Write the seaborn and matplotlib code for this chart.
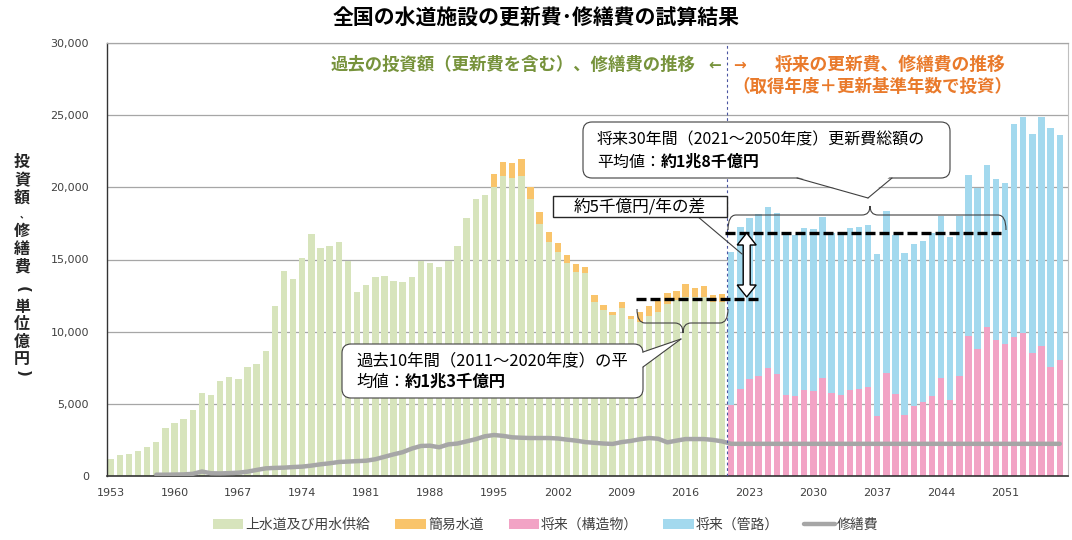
import matplotlib
matplotlib.use("Agg")
import numpy as np
import pandas as pd
import matplotlib.pyplot as plt
import seaborn as sns
from matplotlib.patches import FancyBboxPatch, Polygon, Rectangle, Patch, PathPatch
from matplotlib.path import Path
from matplotlib.lines import Line2D
from matplotlib.transforms import Affine2D
from matplotlib.ticker import FuncFormatter

# ---------------- data (億円) ----------------
past_years = list(range(1953, 2021))
future_years = list(range(2021, 2058))

jousuidou = [1200, 1450, 1520, 1750, 1990, 2380, 3300, 3700, 3930, 4570,
             5770, 5610, 6580, 6840, 6700, 7580, 7760, 8680, 11780, 14220,
             13630, 15080, 16740, 15770, 15930, 16210, 14920, 12730, 13230, 13760,
             13860, 13530, 13450, 13810, 14920, 14740, 14500, 14920, 15930, 17850,
             19210, 19470, 20040, 20810, 20620, 20810, 19170, 17460, 16190, 15540,
             14740, 14150, 14080, 12080, 11500, 11150, 11620, 10880, 10690, 11100,
             11380, 11920, 12190, 12420, 12420, 12420, 12080, 12080]
kan_i_suidou = [0, 0, 0, 0, 0, 0, 0, 0, 0, 0,
                0, 0, 0, 0, 0, 0, 0, 0, 0, 0,
                0, 0, 0, 0, 0, 0, 0, 0, 0, 0,
                0, 0, 0, 0, 0, 0, 0, 0, 0, 0,
                0, 0, 880, 970, 1090, 1130, 870, 810, 740, 580,
                550, 520, 380, 460, 350, 210, 410, 200, 650, 680,
                740, 780, 630, 880, 600, 740, 460, 510]
future_struct = [4920, 6050, 6700, 6930, 7460, 7070, 5610, 5560, 5960, 5890,
                 6770, 5730, 5610, 5960, 6050, 6190, 4160, 7160, 5680, 4230,
                 4850, 5100, 5540, 6770, 5270, 6930, 9700, 8780, 10340, 9420,
                 9150, 9610, 9930, 8500, 9010, 7570, 8040]
future_pipe = [10580, 11180, 11150, 11200, 11150, 11170, 11160, 11140, 11200, 11200,
               11150, 11130, 11200, 11200, 11220, 11200, 11220, 11200, 11020, 11200,
               11200, 11180, 11270, 11260, 11260, 11100, 11150, 11150, 11210, 11160,
               11170, 14780, 14970, 15190, 15840, 16560, 15580]
repair_years = list(range(1958, 2058))
repair = [90, 90, 100, 110, 150, 310, 190, 180, 200, 230,
          300, 420, 530, 560, 580, 620, 650, 720, 810, 880,
          970, 1000, 1030, 1060, 1160, 1330, 1500, 1650, 1900, 2080,
          2100, 1990, 2190, 2250, 2400, 2550, 2750, 2840, 2780, 2680,
          2650, 2630, 2630, 2630, 2600, 2520, 2450, 2350, 2300, 2250,
          2220, 2350, 2430, 2550, 2630, 2580, 2330, 2450, 2560, 2560,
          2560, 2500, 2400,
          2230, 2230, 2230, 2230, 2230, 2230, 2230, 2230, 2230, 2230,
          2230, 2230, 2230, 2230, 2230, 2230, 2230, 2230, 2230, 2230,
          2230, 2230, 2230, 2230, 2230, 2230, 2230, 2230, 2230, 2230,
          2230, 2230, 2230, 2230, 2230, 2230, 2230]
past_avg_level = 12260     # 過去10年間の平均 (点線)
future_avg_level = 16860   # 将来30年間の平均 (点線)

legend_labels = ["上水道及び用水供給", "簡易水道", "将来（構造物）", "将来（管路）", "修繕費"]
x_tick_years = list(range(1953, 2052, 7))
y_ticks = [0, 5000, 10000, 15000, 20000, 25000, 30000]

assert len(jousuidou) == len(past_years) == len(kan_i_suidou)
assert len(future_struct) == len(future_pipe) == len(future_years)
assert len(repair) == len(repair_years)

C_GREEN = "#D7E4BC"
C_ORANGE = "#F9C46B"
C_PINK = "#F2A3C5"
C_BLUE = "#A3D9EE"
C_GRAY = "#A6A6A6"

past = pd.DataFrame({"year": past_years, "green": jousuidou, "orange": kan_i_suidou})
past["total"] = past["green"] + past["orange"]
fut = pd.DataFrame({"year": future_years, "pink": future_struct, "blue": future_pipe})
fut["total"] = fut["pink"] + fut["blue"]
rep = pd.DataFrame({"year": repair_years, "value": repair})

# ---------------- figure ----------------
sns.set_style("white")
plt.rcParams["font.family"] = ["Noto Sans CJK JP", "DejaVu Sans"]

fig = plt.figure(figsize=(10.72, 5.40), dpi=100)
ax = fig.add_axes([107 / 1072, 1 - 476 / 540, (1068 - 107) / 1072, (476 - 43) / 540])

bw = 0.7
sns.barplot(data=past, x="year", y="total", native_scale=True, color=C_ORANGE,
            saturation=1, width=bw, errorbar=None, linewidth=0, ax=ax)
sns.barplot(data=past, x="year", y="green", native_scale=True, color=C_GREEN,
            saturation=1, width=bw, errorbar=None, linewidth=0, ax=ax)
sns.barplot(data=fut, x="year", y="total", native_scale=True, color=C_BLUE,
            saturation=1, width=bw, errorbar=None, linewidth=0, ax=ax)
sns.barplot(data=fut, x="year", y="pink", native_scale=True, color=C_PINK,
            saturation=1, width=bw, errorbar=None, linewidth=0, ax=ax)
sns.lineplot(data=rep, x="year", y="value", color=C_GRAY, linewidth=3.2, ax=ax,
             zorder=4)

ax.set_xlim(1952.6, 2057.9)
ax.set_ylim(0, 30000)
ax.set_xticks(x_tick_years)
ax.set_xticklabels([str(y) for y in x_tick_years])
ax.set_yticks(y_ticks)
ax.yaxis.set_major_formatter(FuncFormatter(lambda v, p: f"{int(v):,}"))
ax.set_xlabel("")
ax.set_ylabel("")
ax.set_axisbelow(True)
ax.grid(axis="y", color="#A6A6A6", linewidth=0.9)
ax.grid(axis="x", visible=False)
ax.tick_params(axis="both", length=0, labelsize=8, labelcolor="#404040")
ax.tick_params(axis="y", pad=13)
ax.tick_params(axis="x", pad=9)
for lab in ax.get_xticklabels() + ax.get_yticklabels():
    lab.set_family("DejaVu Sans")
ax.spines["left"].set_color("#333333")
ax.spines["left"].set_linewidth(1.0)
ax.spines["bottom"].set_color("#333333")
ax.spines["bottom"].set_linewidth(1.2)
ax.spines["top"].set_color("#A6A6A6")
ax.spines["top"].set_linewidth(0.9)
ax.spines["right"].set_color("#BFBFBF")
ax.spines["right"].set_linewidth(0.8)

# separator past / future
ax.axvline(2020.5, color="#4A55A2", linewidth=0.8, linestyle=(0, (2.5, 2.5)), zorder=5)

# average dashed lines
ax.hlines(past_avg_level, 2010.6, 2024.4, colors="black", linewidth=2.4,
          linestyles=(0, (3.0, 1.2)), zorder=6)
ax.hlines(future_avg_level, 2020.3, 2050.8, colors="black", linewidth=2.4,
          linestyles=(0, (3.0, 1.2)), zorder=6)

# ---------------- annotations in pixel space ----------------
px = Affine2D().scale(1 / 100.0, -1 / 100.0).translate(0, 5.40) + fig.dpi_scale_trans


def brace(x0, x1, y_end, y_base, xtip, y_tip, r=8):
    verts = [(x0, y_end), (x0, y_base), (x0 + r, y_base), (xtip - r, y_base),
             (xtip, y_base), (xtip, y_tip), (xtip, y_base), (xtip + r, y_base),
             (x1 - r, y_base), (x1, y_base), (x1, y_end)]
    codes = [Path.MOVETO, Path.CURVE3, Path.CURVE3, Path.LINETO,
             Path.CURVE3, Path.CURVE3, Path.CURVE3, Path.CURVE3,
             Path.LINETO, Path.CURVE3, Path.CURVE3]
    p = PathPatch(Path(verts, codes), facecolor="none", edgecolor="#404040",
                  linewidth=0.8, transform=px, clip_on=False, zorder=7)
    ax.add_patch(p)


def callout(x0, y0, x1, y1, base1, tip, base2, rad=9):
    box = FancyBboxPatch((x0, y0), x1 - x0, y1 - y0,
                         boxstyle=f"round,pad=0,rounding_size={rad}",
                         facecolor="white", edgecolor="#404040", linewidth=0.8,
                         transform=px, clip_on=False, zorder=8)
    ax.add_patch(box)
    cx = (base1[0] + base2[0]) / 2
    cy = (base1[1] + base2[1]) / 2
    inward = ((cx - tip[0]) * 0.08, (cy - tip[1]) * 0.08)
    poly = Polygon([(base1[0] + inward[0], base1[1] + inward[1]), tip,
                    (base2[0] + inward[0], base2[1] + inward[1])],
                   closed=True, facecolor="white", edgecolor="none",
                   transform=px, clip_on=False, zorder=9)
    ax.add_patch(poly)
    for b in (base1, base2):
        ax.add_line(Line2D([b[0], tip[0]], [b[1], tip[1]], color="#404040",
                           linewidth=0.8, transform=px, clip_on=False, zorder=10))


def two_part_line(x, y, regular, bold, size):
    t = ax.text(x, y, regular, transform=px, ha="left", va="center",
                fontsize=size, color="black", zorder=11)
    ax.annotate(bold, xy=(1, 0.5), xycoords=t, ha="left", va="center",
                fontsize=size, color="black", weight="bold", zorder=11,
                annotation_clip=False)


# future 30-year callout
brace(728, 1006, 230, 215, 870, 206)
callout(583, 122, 950, 178, (797, 178), (868, 198), (892, 178))
ax.text(597, 140, "将来30年間（2021～2050年度）更新費総額の", transform=px,
        ha="left", va="center", fontsize=11.5, color="black", zorder=11)
two_part_line(597, 162, "平均値：", "約1兆8千億円", 11.5)

# past 10-year callout
brace(637, 728, 309, 323, 683, 333)
callout(342, 344, 643, 398, (643, 352), (681, 339), (643, 367))
ax.text(356, 361, "過去10年間（2011～2020年度）の平", transform=px,
        ha="left", va="center", fontsize=11.8, color="black", zorder=11)
two_part_line(356, 382, "均値：", "約1兆3千億円", 11.8)

# difference box
ax.add_line(Line2D([697, 742], [216, 254], color="#404040", linewidth=0.8,
                   transform=px, clip_on=False, zorder=7))
ax.add_patch(Rectangle((553, 196), 174, 21, facecolor="white", edgecolor="#262626",
                       linewidth=1.0, transform=px, clip_on=False, zorder=8))
ax.text(640, 206.5, "約5千億円/年の差", transform=px, ha="center", va="center",
        fontsize=12, color="black", zorder=11)

# double-headed hollow arrow
cx, ta, tb, hl, hw, sw = 746.7, 233, 297, 12, 9.5, 3.5
arrow = Polygon([(cx, ta), (cx + hw, ta + hl), (cx + sw, ta + hl), (cx + sw, tb - hl),
                 (cx + hw, tb - hl), (cx, tb), (cx - hw, tb - hl), (cx - sw, tb - hl),
                 (cx - sw, ta + hl), (cx - hw, ta + hl)], closed=True,
                facecolor="white", edgecolor="black", linewidth=1.0,
                transform=px, clip_on=False, zorder=9)
ax.add_patch(arrow)

# ---------------- titles / headers ----------------
fig.text(0.5005, 1 - 18 / 540, "全国の水道施設の更新費･修繕費の試算結果", ha="center",
         va="center", fontsize=15, weight="bold", color="black")
fig.text(695 / 1072, 1 - 65 / 540, "過去の投資額（更新費を含む）、修繕費の推移",
         ha="right", va="center", fontsize=12.5, weight="bold", color="#77933C")
fig.text(715 / 1072, 1 - 65 / 540, "←", ha="center", va="center", fontsize=11,
         weight="bold", color="#77933C", family=["DejaVu Sans"])
fig.text(740 / 1072, 1 - 65 / 540, "→", ha="center", va="center", fontsize=11,
         weight="bold", color="#E97A2B", family=["DejaVu Sans"])
fig.text(775 / 1072, 1 - 65 / 540, "将来の更新費、修繕費の推移", ha="left",
         va="center", fontsize=12.8, weight="bold", color="#E97A2B")
fig.text(732 / 1072, 1 - 87 / 540, "（取得年度＋更新基準年数で投資）", ha="left",
         va="center", fontsize=12.6, weight="bold", color="#E97A2B")

# vertical y-axis label (upright characters stacked)
ylab_chars = ["投", "資", "額", "、", "修", "繕", "費", "(", "単", "位", "億", "円", ")"]
ylab_y = [162, 180, 198, 215, 231, 249, 267, 289, 307, 324, 342, 359, 373]
for ch, yy in zip(ylab_chars, ylab_y):
    size = 11.5
    kw = {}
    xx = 22
    if ch in "()":
        kw["rotation"] = 270
        kw["family"] = ["DejaVu Sans"]
        size = 11
    elif ch == "、":
        size = 6.5
        xx = 24
    fig.text(xx / 1072, 1 - yy / 540, ch, ha="center", va="center",
             fontsize=size, weight="bold", color="#262626", **kw)

# ---------------- legend ----------------
handles = [Patch(facecolor=C_GREEN, edgecolor="none"),
           Patch(facecolor=C_ORANGE, edgecolor="none"),
           Patch(facecolor=C_PINK, edgecolor="none"),
           Patch(facecolor=C_BLUE, edgecolor="none"),
           Line2D([0], [0], color=C_GRAY, linewidth=3.2)]
leg = fig.legend(handles, legend_labels, loc="center", bbox_to_anchor=(0.509, 1 - 525 / 540),
                 ncol=5, frameon=False, fontsize=10, handlelength=2.2, handleheight=0.72,
                 handletextpad=0.15, columnspacing=1.8)
for t in leg.get_texts():
    t.set_color("#404040")

fig.savefig("out.png", dpi=100)
